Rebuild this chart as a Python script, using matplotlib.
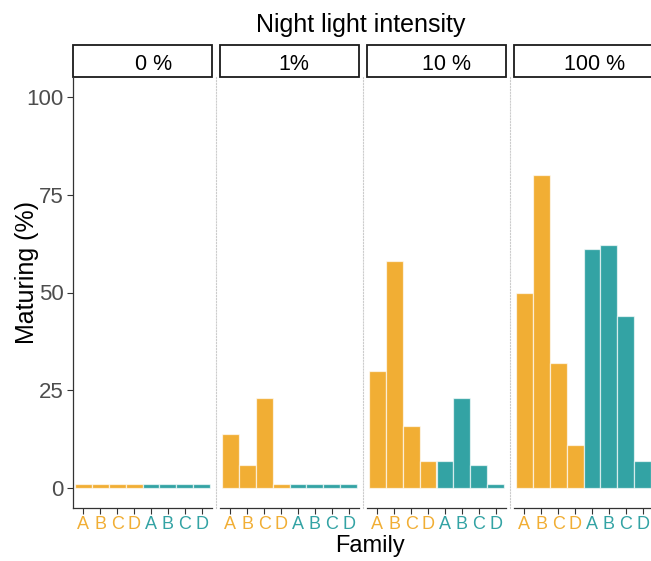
import matplotlib
matplotlib.use('Agg')
import matplotlib.pyplot as plt
from matplotlib.patches import Rectangle

plt.rcParams['font.family'] = ['Liberation Sans', 'DejaVu Sans']

# data
intensities = ['0 %', '1%', '10 %', '100 %']
families = ['A', 'B', 'C', 'D', 'A', 'B', 'C', 'D']
groups = ['o', 'o', 'o', 'o', 't', 't', 't', 't']
maturing_0 = [1, 1, 1, 1, 1, 1, 1, 1]
maturing_1 = [14, 6, 23, 1, 1, 1, 1, 1]
maturing_10 = [30, 58, 16, 7, 7, 23, 6, 1]
maturing_100 = [50, 80, 32, 11, 61, 62, 44, 7]
values = [maturing_0, maturing_1, maturing_10, maturing_100]

colors = {'o': '#F1AE34', 't': '#33A3A4'}
bar_colors = [colors[g] for g in groups]

W, H = 651, 561
fig = plt.figure(figsize=(W / 100, H / 100), dpi=100)

panel_left = [73, 220, 367, 514]
panel_w = 139
top_px, bot_px = 77, 508
strip_h = 32
label_shift = [11, 4, 10, 11]

x = list(range(1, 9))
for i, vals in enumerate(values):
    ax = fig.add_axes([panel_left[i] / W, (H - bot_px) / H, panel_w / W, (bot_px - top_px) / H])
    ax.bar(x, vals, width=1.0, color=bar_colors, edgecolor=(1, 1, 1, 0.65), linewidth=0.9)
    ax.set_xlim(0.4, 8.6)
    ax.set_ylim(-5, 105)
    ax.set_xticks(x)
    ax.set_xticklabels(families, fontsize=13)
    for lab, c in zip(ax.get_xticklabels(), bar_colors):
        lab.set_color(c)
    ax.set_yticks([0, 25, 50, 75, 100])
    ax.tick_params(axis='both', length=4, width=0.8, color='#333333', pad=2)
    ax.tick_params(axis='y', labelsize=16, labelcolor='#4D4D4D', pad=2.5)
    for s in ['top', 'right']:
        ax.spines[s].set_visible(False)
    ax.spines['bottom'].set_color('#333333')
    ax.spines['bottom'].set_linewidth(0.9)
    if i == 0:
        ax.spines['left'].set_color('#333333')
        ax.spines['left'].set_linewidth(0.9)
    else:
        ax.spines['left'].set_position(('outward', 3))
        ax.spines['left'].set_linestyle(':')
        ax.spines['left'].set_color('#CCCCCC')
        ax.spines['left'].set_linewidth(0.8)
        ax.tick_params(axis='y', left=False, labelleft=False)

    # strip on top of each panel
    sh = strip_h / (bot_px - top_px)
    ax.add_patch(Rectangle((0, 1), 1, sh, transform=ax.transAxes, clip_on=False,
                           facecolor='white', edgecolor='#1A1A1A', linewidth=1.3))
    ax.text(0.5 + label_shift[i] / panel_w, 1 + (sh / 2) - 3 / (bot_px - top_px), intensities[i],
            transform=ax.transAxes, ha='center', va='center', fontsize=15.5, color='black')

fig.text(361 / W, 1 - 25 / H, 'Night light intensity', ha='center', va='center', fontsize=18)
fig.text(27 / W, 1 - 272 / H, 'Maturing (%)', ha='center', va='center', rotation=90, fontsize=18)
fig.text(370 / W, 1 - 535 / H, 'Family', ha='center', va='top', fontsize=17)

fig.savefig('out.png', dpi=100)
